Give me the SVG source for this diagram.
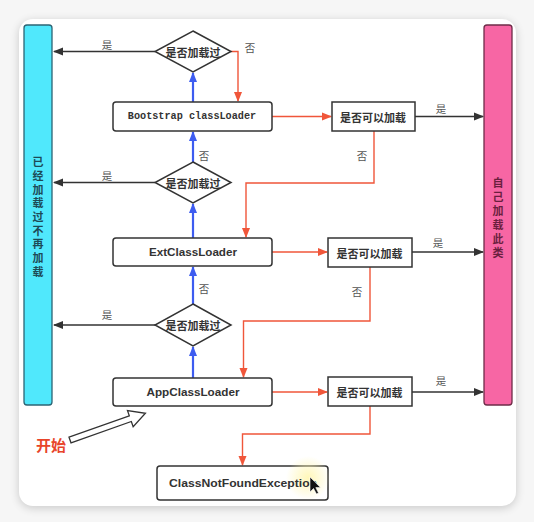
<svg xmlns="http://www.w3.org/2000/svg" width="534" height="522" viewBox="0 0 534 522">
<defs>
<filter id="sh" x="-10%" y="-10%" width="120%" height="120%"><feGaussianBlur stdDeviation="5"/></filter>
<radialGradient id="glow"><stop offset="0" stop-color="#fff6b0" stop-opacity="0.9"/><stop offset="1" stop-color="#fff6b0" stop-opacity="0"/></radialGradient>
<marker id="ak" viewBox="0 0 10 10" refX="9" refY="5" markerWidth="10" markerHeight="10" markerUnits="userSpaceOnUse" orient="auto"><path d="M0,1 L10,5 L0,9 Z" fill="#333"/></marker>
<marker id="ar" viewBox="0 0 10 10" refX="9" refY="5" markerWidth="10" markerHeight="10" markerUnits="userSpaceOnUse" orient="auto"><path d="M0,1 L10,5 L0,9 Z" fill="#f0563a"/></marker>
<marker id="ab" viewBox="0 0 10 10" refX="9" refY="5" markerWidth="10" markerHeight="10" markerUnits="userSpaceOnUse" orient="auto"><path d="M0,1 L10,5 L0,9 Z" fill="#3d5cf0"/></marker>
</defs>
<style>
.box{fill:#fff;stroke:#333;stroke-width:1.5}
.dia{fill:#fff;stroke:#333;stroke-width:1.5}
.t{font-family:"Noto Sans CJK SC","Noto Sans",sans-serif;font-weight:bold;font-size:11px;fill:#333;text-anchor:middle;dominant-baseline:central}
.lb{font-family:"Noto Sans CJK SC",sans-serif;font-size:10.5px;fill:#555;text-anchor:middle;dominant-baseline:central}
.en{font-family:"Liberation Sans","Noto Sans",sans-serif;font-weight:bold;font-size:11.5px;fill:#333;text-anchor:middle;dominant-baseline:central}
.mono{font-family:"Liberation Mono",monospace;font-weight:bold;font-size:10.2px;fill:#333;text-anchor:middle;dominant-baseline:central}
.k{fill:none;stroke:#333;stroke-width:1.4;marker-end:url(#ak)}
.r{fill:none;stroke:#f0563a;stroke-width:1.4;marker-end:url(#ar)}
.b{fill:none;stroke:#3d5cf0;stroke-width:2.2;marker-end:url(#ab)}
.vt{font-family:"Noto Sans CJK SC",sans-serif;font-weight:bold;font-size:11px;writing-mode:vertical-rl;letter-spacing:2.7px}
</style>
<rect width="534" height="522" fill="#f6f6f6"/>
<rect x="19" y="21" width="497" height="487" rx="14" fill="#000" opacity="0.18" filter="url(#sh)"/>
<rect x="19" y="19" width="497" height="487" rx="14" fill="#fff"/>

<g id="loaded">
<rect x="24" y="25" width="28" height="380" rx="3" fill="#50e8fc" stroke="#2c6474" stroke-width="1.3"/>
<text class="vt" x="38" y="156.5" fill="#1d4a56">已经加载过不再加载</text>
</g>
<g id="self">
<rect x="484" y="25" width="28" height="380" rx="3" fill="#f766a4" stroke="#6e2c48" stroke-width="1.3"/>
<text class="vt" x="498" y="177.5" fill="#6a1f3e" style="letter-spacing:3px">自己加载此类</text>
</g>

<g id="connectors">
<path class="k" d="M155,51.5 H54"/>
<path class="k" d="M155,182.5 H54"/>
<path class="k" d="M155,325 H54"/>
<path class="k" d="M415,116.5 H483"/>
<path class="k" d="M412,252 H483"/>
<path class="k" d="M412,392 H483"/>
<path class="b" d="M193,102 V73"/>
<path class="b" d="M193,162 V132"/>
<path class="b" d="M193,238 V204"/>
<path class="b" d="M193,304 V267"/>
<path class="b" d="M193,378 V347"/>
<path class="r" d="M231,51.5 H238 V101"/>
<path class="r" d="M272,116.5 H331"/>
<path class="r" d="M272,252 H327"/>
<path class="r" d="M272,392 H327"/>
<path class="r" d="M374,131 V183 H246 V237"/>
<path class="r" d="M370,267 V321 H243.5 V377"/>
<path class="r" d="M370,406 V434 H242.5 V465"/>
<text class="lb" x="107" y="44">是</text>
<text class="lb" x="107" y="175">是</text>
<text class="lb" x="107" y="314">是</text>
<text class="lb" x="250" y="47">否</text>
<text class="lb" x="204" y="155">否</text>
<text class="lb" x="204" y="288">否</text>
<text class="lb" x="362" y="155">否</text>
<text class="lb" x="357" y="291">否</text>
<text class="lb" x="441" y="108">是</text>
<text class="lb" x="438" y="242">是</text>
<text class="lb" x="441" y="380">是</text>
</g>

<g id="d1"><path class="dia" d="M193,31 L231,51.5 L193,72 L155,51.5 Z"/><text class="t" x="193" y="51.5">是否加载过</text></g>
<g id="d2"><path class="dia" d="M193,162 L231,182.5 L193,203 L155,182.5 Z"/><text class="t" x="193" y="182.5">是否加载过</text></g>
<g id="d3"><path class="dia" d="M193,304 L231,325 L193,346 L155,325 Z"/><text class="t" x="193" y="325">是否加载过</text></g>

<g id="bootstrap"><rect class="box" x="113" y="102" width="159" height="29" rx="3"/><text class="mono" x="192" y="116.5">Bootstrap classLoader</text></g>
<g id="ext"><rect class="box" x="113" y="238" width="159" height="28" rx="3"/><text class="en" x="193" y="252" textLength="88" lengthAdjust="spacingAndGlyphs">ExtClassLoader</text></g>
<g id="app"><rect class="box" x="113" y="378" width="159" height="28" rx="3"/><text class="en" x="193" y="392" textLength="93" lengthAdjust="spacingAndGlyphs">AppClassLoader</text></g>

<g id="c1"><rect class="box" x="332" y="102" width="83" height="29"/><text class="t" x="373" y="116.5">是否可以加载</text></g>
<g id="c2"><rect class="box" x="328" y="238" width="84" height="29"/><text class="t" x="369.5" y="252.5">是否可以加载</text></g>
<g id="c3"><rect class="box" x="328" y="377" width="84" height="29"/><text class="t" x="369.5" y="391.5">是否可以加载</text></g>

<g id="cnf"><rect class="box" x="157" y="466" width="171" height="34" rx="3"/>
<circle cx="308" cy="478" r="22" fill="url(#glow)"/>
<text class="en" x="243" y="483" textLength="148" lengthAdjust="spacingAndGlyphs">ClassNotFoundException</text>
<path d="M310,477 L310,492 L313.5,488.5 L316.5,494 L318.5,493 L315.8,487.6 L320.5,487.6 Z" fill="#111" stroke="#fff" stroke-width="0.6"/>
</g>

<g id="start">
<text x="36" y="444" font-family="Noto Sans CJK SC,sans-serif" font-weight="bold" font-size="15" fill="#e8442a" dominant-baseline="central">开始</text>
<path d="M0,-3 H64 V-8.5 L80,0 L64,8.5 V3 H0 Z" transform="translate(70,440) rotate(-19.5)" fill="#fff" stroke="#333" stroke-width="1.3" stroke-linejoin="miter"/>
</g>
</svg>
